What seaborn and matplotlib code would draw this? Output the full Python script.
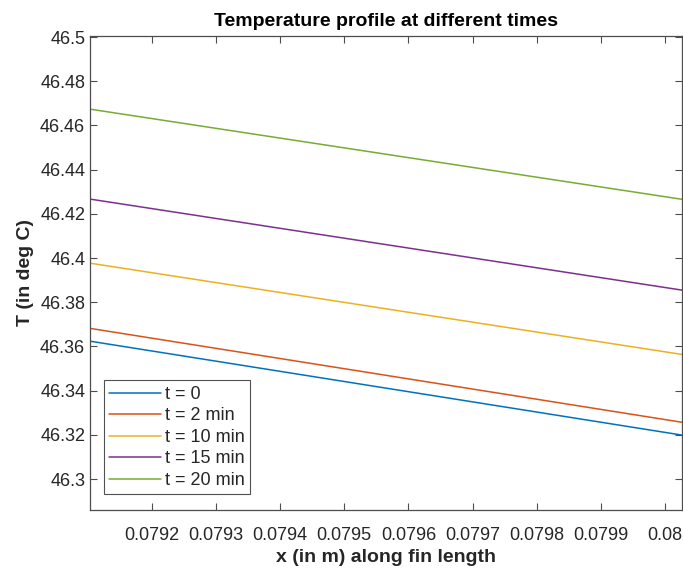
import matplotlib
matplotlib.use("Agg")
import matplotlib.pyplot as plt
import seaborn as sns
import pandas as pd

# Data
x_ends = [0.079104, 0.080026]
series_labels = ["t = 0", "t = 2 min", "t = 10 min", "t = 15 min", "t = 20 min"]
t0 = [46.3624, 46.3199]
t2 = [46.3682, 46.3257]
t10 = [46.3977, 46.3564]
t15 = [46.4267, 46.3855]
t20 = [46.4674, 46.4266]
colors = ["#0072BD", "#D95319", "#EDB120", "#7E2F8E", "#77AC30"]

xticks = [0.0792, 0.0793, 0.0794, 0.0795, 0.0796, 0.0797, 0.0798, 0.0799, 0.0800]
xticklabels = ["0.0792", "0.0793", "0.0794", "0.0795", "0.0796", "0.0797", "0.0798", "0.0799", "0.08"]
yticks = [46.30, 46.32, 46.34, 46.36, 46.38, 46.40, 46.42, 46.44, 46.46, 46.48, 46.50]
yticklabels = ["46.3", "46.32", "46.34", "46.36", "46.38", "46.4", "46.42", "46.44", "46.46", "46.48", "46.5"]

rows = []
for lab, vals in zip(series_labels, [t0, t2, t10, t15, t20]):
    for xv, yv in zip(x_ends, vals):
        rows.append({"x": xv, "T": yv, "series": lab})
df = pd.DataFrame(rows)

sns.set_style("white")
plt.rcParams["font.family"] = ["Liberation Sans", "DejaVu Sans"]

fig = plt.figure(figsize=(6.83, 5.69), dpi=100)
ax = fig.add_axes([90 / 683, 59 / 569, 592 / 683, 474 / 569])

sns.lineplot(data=df, x="x", y="T", hue="series", hue_order=series_labels,
             palette=colors, linewidth=1.1, ax=ax)

ax.set_xlim(x_ends[0], x_ends[1])
ax.set_ylim(46.286, 46.5005)
ax.set_xticks(xticks)
ax.set_xticklabels(xticklabels)
ax.set_yticks(yticks)
ax.set_yticklabels(yticklabels)

axcol = "#262626"
for s in ax.spines.values():
    s.set_visible(True)
    s.set_color("#4d4d4d")
    s.set_linewidth(0.9)
ax.tick_params(direction="in", length=5, width=0.8, colors="#4d4d4d",
               labelcolor=axcol, labelsize=13, top=True, right=True,
               bottom=True, left=True)
ax.tick_params(axis="x", pad=12)

ax.set_xlabel("x (in m) along fin length", fontsize=14, fontweight="bold", color=axcol, labelpad=4)
ax.set_ylabel("T (in deg C)", fontsize=14, fontweight="bold", color=axcol, labelpad=4)
ax.set_title("Temperature profile at different times", fontsize=14, fontweight="bold",
             color="black", pad=7)

leg = ax.legend(loc="lower left", bbox_to_anchor=(0.023, 0.033), fontsize=13, frameon=True,
                fancybox=False, edgecolor="#262626", handlelength=2.9, handletextpad=0.2,
                labelspacing=0.25, borderpad=0.3, borderaxespad=0)
leg.get_frame().set_linewidth(0.8)
for t in leg.get_texts():
    t.set_color(axcol)

fig.savefig("out.png", dpi=100, facecolor="white")
